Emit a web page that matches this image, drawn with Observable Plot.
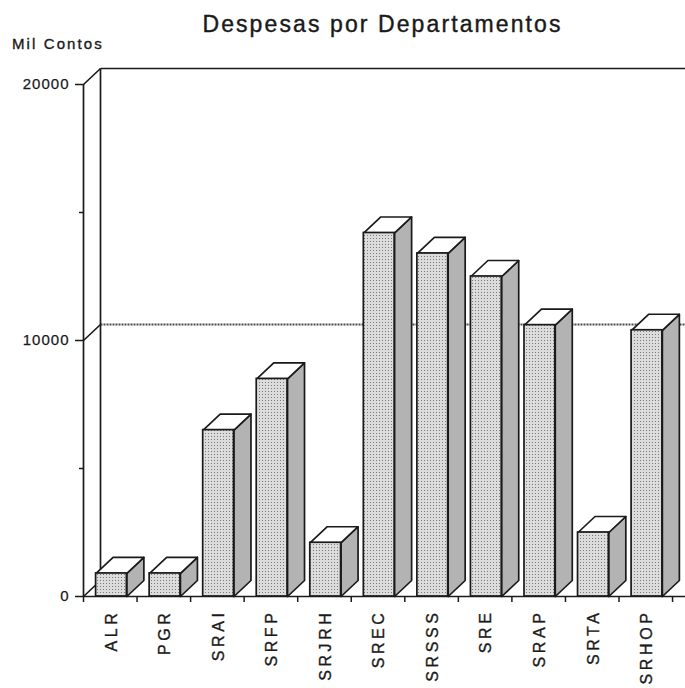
<!DOCTYPE html>
<html>
<head>
<meta charset="utf-8">
<script src="https://cdn.jsdelivr.net/npm/d3@7"></script>
<script src="https://cdn.jsdelivr.net/npm/@observablehq/plot@0.6"></script>
<style>
  html, body { margin: 0; padding: 0; background: #fff; }
  #wrap { position: relative; width: 685px; height: 688px; font-family: "Liberation Sans", Arial, sans-serif; color: #1a1a1a; }
  #title { position: absolute; left: 0; width: 765px; top: 11px; text-align: center; font-size: 23px; letter-spacing: 2.1px; white-space: nowrap; -webkit-text-stroke: 0.4px #1a1a1a; }
  #unit { position: absolute; left: 12px; top: 35px; font-size: 15px; letter-spacing: 2.1px; white-space: nowrap; -webkit-text-stroke: 0.35px #1a1a1a; }
  #chart { position: absolute; left: 0; top: 0; }
  g[aria-label="x-axis tick label"] text { letter-spacing: 3.6px; stroke: #1a1a1a; stroke-width: 0.35px; }
  g[aria-label="y-axis tick label"] text { letter-spacing: 1px; stroke: #1a1a1a; stroke-width: 0.25px; }
</style>
</head>
<body>
<svg width="0" height="0" style="position:absolute">
  <defs>
    <pattern id="pfront" width="3" height="3" patternUnits="userSpaceOnUse">
      <rect width="3" height="3" fill="#dcdcdc"></rect>
      <rect x="1" y="1" width="1" height="1" fill="#7a7a7a"></rect>
    </pattern>
    <pattern id="pside" width="2" height="2" patternUnits="userSpaceOnUse">
      <rect width="2" height="2" fill="#cdcdcd"></rect>
      <rect x="0" y="0" width="1" height="1" fill="#666666"></rect>
    </pattern>
  </defs>
</svg>
<div id="wrap">
  <div id="chart"></div>
  <div id="title">Despesas por Departamentos</div>
  <div id="unit">Mil Contos</div>
</div>
<script>
// ---- data ----
const categories = ["ALR", "PGR", "SRAI", "SRFP", "SRJRH", "SREC", "SRSSS", "SRE", "SRAP", "SRTA", "SRHOP"];
const values = [900, 900, 6500, 8500, 2100, 14200, 13400, 12500, 10600, 2500, 10400];
const yMajorTicks = [0, 10000, 20000];
const yMinorTicks = [5000, 15000];

// ---- layout ----
const W = 685, H = 688;
const mL = 83, mR = 0, mT = 84, mB = 92;
const YMAX = 20000;
const bandPx = 53.55;
const XMAX = (W - mL - mR) / bandPx;
const xPerPx = XMAX / (W - mL - mR);
const yPerPx = YMAX / (H - mT - mB);
const DX = 17 * xPerPx;   // depth offset (x)
const DY = 16 * yPerPx;   // depth offset (y)
const F0 = 0.235, F1 = 0.81; // front face within band
const LABEL_OFF = (F0 + F1) / 2;

const bars = categories.map((c, i) => ({c, i, v: values[i]}));

const sidePts = bars.flatMap(b => [
  [b.i + F1, 0], [b.i + F1 + DX, DY], [b.i + F1 + DX, b.v + DY], [b.i + F1, b.v], [b.i + F1, 0]
].map(([x, y]) => ({x, y, z: b.c})));

const topPts = bars.flatMap(b => [
  [b.i + F0, b.v], [b.i + F0 + DX, b.v + DY], [b.i + F1 + DX, b.v + DY], [b.i + F1, b.v], [b.i + F0, b.v]
].map(([x, y]) => ({x, y, z: b.c})));

// wall structure derived from ticks
const diagonals = yMajorTicks.map(t => ({x1: 0, y1: t, x2: DX, y2: t + DY}));
const wallLines = [
  {x1: DX, y1: DY, x2: DX, y2: YMAX + DY},
  {x1: DX, y1: YMAX + DY, x2: XMAX, y2: YMAX + DY}
];
const gridLines = yMajorTicks.filter(t => t > 0 && t < YMAX).map(t => ({x1: DX, y1: t + DY, x2: XMAX, y2: t + DY}));

const ink = "#1a1a1a";
const sw = 1.7;

const plot = Plot.plot({
  width: W,
  height: H,
  marginLeft: mL,
  marginRight: mR,
  marginTop: mT,
  marginBottom: mB,
  x: {type: "linear", domain: [0, XMAX], axis: null},
  y: {type: "linear", domain: [0, YMAX], axis: null},
  style: {fontFamily: "'Liberation Sans', Arial, sans-serif", color: ink, background: "transparent", overflow: "visible"},
  marks: [
    Plot.link(gridLines, {x1: "x1", y1: "y1", x2: "x2", y2: "y2", stroke: "#4a4a4a", strokeWidth: 2, strokeDasharray: "2,1"}),
    Plot.link(wallLines, {x1: "x1", y1: "y1", x2: "x2", y2: "y2", stroke: ink, strokeWidth: sw}),
    Plot.link(diagonals, {x1: "x1", y1: "y1", x2: "x2", y2: "y2", stroke: ink, strokeWidth: sw}),
    Plot.ruleX([0], {y1: 0, y2: YMAX, stroke: ink, strokeWidth: sw}),
    Plot.ruleY([0], {stroke: ink, strokeWidth: sw}),
    Plot.axisX({ticks: d3.range(0, categories.length + 1), tickFormat: () => "", tickSize: 6, stroke: ink, strokeWidth: 1.5, label: null}),
    Plot.axisX({ticks: bars.map(b => b.i + LABEL_OFF), tickFormat: d => categories[Math.round(d - LABEL_OFF)], tickSize: 0, tickPadding: 13, tickRotate: -90, fontSize: 16, label: null}),
    Plot.axisY({ticks: yMajorTicks, tickFormat: d => String(d), tickSize: 8, tickPadding: 6, fontSize: 15, stroke: ink, strokeWidth: 1.5, label: null}),
    Plot.axisY({ticks: yMinorTicks, tickFormat: () => "", tickSize: 4, stroke: ink, strokeWidth: 1.5, label: null}),
    Plot.line(sidePts, {x: "x", y: "y", z: "z", fill: "url(#pside)", stroke: ink, strokeWidth: sw, strokeLinejoin: "round"}),
    Plot.line(topPts, {x: "x", y: "y", z: "z", fill: "white", stroke: ink, strokeWidth: sw, strokeLinejoin: "round"}),
    Plot.rect(bars, {x1: d => d.i + F0, x2: d => d.i + F1, y1: 0, y2: "v", fill: "url(#pfront)", stroke: ink, strokeWidth: sw})
  ]
});
document.getElementById("chart").appendChild(plot);
</script>
</body>
</html>
